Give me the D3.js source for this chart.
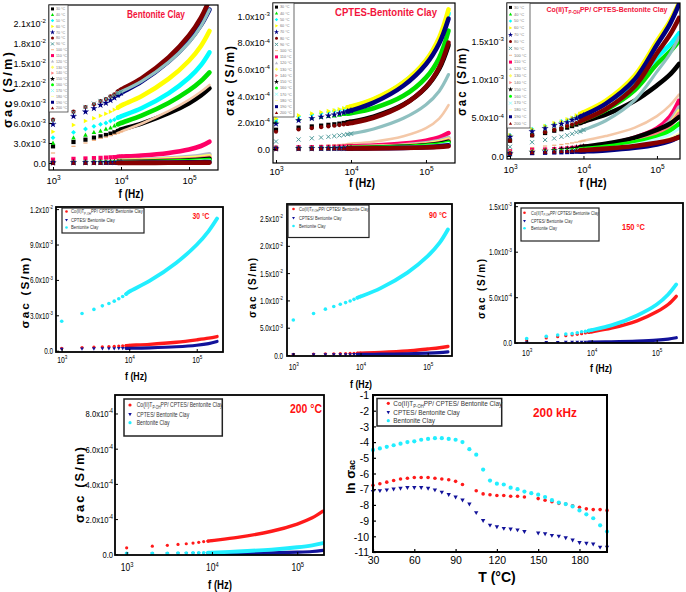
<!DOCTYPE html>
<html><head><meta charset="utf-8">
<script src="https://cdn.jsdelivr.net/npm/d3@7"></script>
<style>body{margin:0;background:#fff}svg{display:block;font-family:"Liberation Sans",Arial,sans-serif}</style>
</head><body><svg id="c" width="686" height="592"></svg>
<script>
// ---------------- DATA ----------------
const freqKHz = [1,2,3,4,5,6,7,8,9,10,20,50,100,150,200];
const temperatures = [30,40,50,60,70,80,90,100,110,120,130,140,150,160,170,180,190,200];
// sigma_ac of Bentonite Clay (x1e-3 S/m), one row per temperature
const bentoniteClay = [
 [2.5,3.15,3.5,3.8,4.0,4.2,4.4,4.6,4.8,5.0,5.91,7.46,8.98,10.14,11.2],
 [3.0,3.8,4.2,4.6,4.8,5.1,5.3,5.6,5.8,6.0,7.11,9.01,10.88,12.3,13.6],
 [3.8,4.6,5.1,5.5,5.8,6.0,6.3,6.5,6.8,7.0,8.21,10.44,12.78,14.68,16.6],
 [4.7,5.7,6.3,6.7,7.1,7.4,7.7,8.0,8.3,8.6,10.01,12.61,15.34,17.56,19.8],
 [5.8,7.0,7.7,8.2,8.7,9.0,9.4,9.8,10.2,10.5,12.2,15.21,18.28,20.69,23.0],
 [6.5,7.7,8.4,8.8,9.3,9.6,10.0,10.3,10.7,11.0,12.7,15.83,19.13,21.8,24.5],
 [6.4,7.6,8.4,8.9,9.3,9.6,9.9,10.2,10.5,10.7,12.25,15.1,18.1,20.54,23.0],
 [1.5,2.5,3.0,3.4,3.7,3.9,4.1,4.3,4.5,4.7,5.89,7.77,9.48,10.68,11.7],
 [0.5,0.62,0.68,0.73,0.77,0.81,0.85,0.88,0.92,0.95,1.12,1.51,2.02,2.55,3.2],
 [0.1,0.17,0.21,0.24,0.26,0.28,0.3,0.32,0.34,0.36,0.46,0.66,0.89,1.09,1.3],
 [0.08,0.14,0.17,0.19,0.21,0.23,0.25,0.27,0.28,0.3,0.38,0.54,0.71,0.85,1.0],
 [0.06,0.1,0.13,0.14,0.16,0.17,0.18,0.2,0.21,0.22,0.28,0.4,0.53,0.65,0.78],
 [0.046,0.07,0.085,0.095,0.1,0.11,0.12,0.125,0.133,0.14,0.19,0.3,0.42,0.53,0.64],
 [0.04,0.063,0.077,0.087,0.095,0.102,0.109,0.117,0.124,0.13,0.16,0.23,0.31,0.38,0.45],
 [0.03,0.048,0.059,0.066,0.073,0.078,0.084,0.09,0.095,0.1,0.13,0.18,0.24,0.29,0.35],
 [0.02,0.033,0.041,0.046,0.05,0.055,0.058,0.062,0.066,0.07,0.088,0.124,0.166,0.2,0.24],
 [0.01,0.018,0.022,0.026,0.028,0.031,0.033,0.036,0.038,0.04,0.051,0.072,0.096,0.117,0.14],
 [0.005,0.006,0.006,0.007,0.007,0.008,0.008,0.009,0.009,0.01,0.016,0.027,0.04,0.051,0.063]
];
// sigma_ac of CPTES-Bentonite Clay (x1e-4 S/m)
const cptesClay = [
 [1.45,1.61,1.7,1.76,1.82,1.86,1.91,1.96,2.01,2.05,2.43,3.34,4.64,6.02,7.8],
 [2.1,2.26,2.35,2.41,2.47,2.51,2.56,2.61,2.66,2.7,3.07,4.0,5.37,6.85,8.9],
 [2.2,2.45,2.59,2.69,2.78,2.86,2.93,3.01,3.08,3.15,3.71,4.98,6.6,8.23,10.2],
 [2.3,2.53,2.67,2.77,2.85,2.92,2.99,3.07,3.14,3.2,3.75,5.01,6.67,8.38,10.5],
 [1.9,2.16,2.31,2.42,2.51,2.59,2.67,2.75,2.83,2.9,3.49,4.76,6.38,7.94,9.8],
 [1.3,1.47,1.57,1.64,1.7,1.75,1.8,1.85,1.9,1.95,2.35,3.31,4.67,6.12,8.0],
 [0.57,0.72,0.81,0.87,0.92,0.97,1.02,1.06,1.11,1.15,1.51,2.31,3.33,4.35,5.6],
 [0.15,0.22,0.25,0.28,0.3,0.32,0.34,0.36,0.38,0.4,0.55,0.96,1.57,2.29,3.3],
 [0.1,0.13,0.14,0.15,0.16,0.17,0.18,0.19,0.19,0.2,0.26,0.41,0.63,0.87,1.2],
 [0.05,0.07,0.08,0.09,0.09,0.1,0.1,0.11,0.12,0.12,0.16,0.27,0.43,0.6,0.83],
 [0.04,0.055,0.065,0.07,0.075,0.08,0.085,0.09,0.095,0.1,0.14,0.23,0.36,0.51,0.71],
 [0.04,0.05,0.06,0.065,0.07,0.075,0.08,0.08,0.085,0.09,0.12,0.2,0.31,0.44,0.61],
 [0.03,0.043,0.05,0.056,0.06,0.065,0.07,0.072,0.076,0.08,0.11,0.18,0.28,0.4,0.55],
 [0.03,0.04,0.046,0.05,0.054,0.058,0.06,0.063,0.067,0.07,0.095,0.16,0.25,0.34,0.48],
 [0.02,0.03,0.036,0.04,0.044,0.048,0.05,0.053,0.057,0.06,0.08,0.13,0.21,0.29,0.41],
 [0.02,0.027,0.032,0.036,0.038,0.04,0.043,0.045,0.048,0.05,0.065,0.1,0.16,0.22,0.3],
 [0.02,0.025,0.028,0.03,0.032,0.034,0.035,0.036,0.038,0.04,0.055,0.09,0.14,0.2,0.275],
 [0.02,0.025,0.028,0.03,0.032,0.034,0.035,0.036,0.038,0.04,0.05,0.08,0.12,0.16,0.22]
];
// sigma_ac of Co(II)TP-OHPP/ CPTES-Bentonite Clay (x1e-3 S/m)
const coClay = [
 [0.2,0.27,0.3,0.33,0.35,0.37,0.39,0.41,0.43,0.45,0.54,0.72,0.92,1.06,1.2],
 [0.22,0.29,0.32,0.35,0.37,0.39,0.41,0.43,0.45,0.47,0.6,0.86,1.2,1.36,1.5],
 [0.27,0.35,0.39,0.42,0.45,0.47,0.49,0.52,0.54,0.56,0.69,0.96,1.29,1.45,1.6],
 [0.27,0.35,0.39,0.43,0.45,0.48,0.5,0.53,0.55,0.57,0.72,1.05,1.5,1.76,2.0],
 [0.25,0.32,0.36,0.4,0.42,0.44,0.47,0.49,0.51,0.53,0.68,1.0,1.45,1.72,1.98],
 [0.2,0.27,0.31,0.34,0.36,0.39,0.41,0.43,0.45,0.47,0.61,0.91,1.34,1.58,1.8],
 [0.12,0.18,0.21,0.23,0.25,0.27,0.29,0.31,0.32,0.34,0.46,0.73,1.1,1.33,1.55],
 [0.08,0.11,0.13,0.14,0.15,0.16,0.17,0.18,0.19,0.2,0.26,0.37,0.52,0.66,0.8],
 [0.06,0.08,0.085,0.09,0.095,0.1,0.105,0.11,0.115,0.12,0.15,0.24,0.36,0.51,0.72],
 [0.05,0.066,0.075,0.081,0.087,0.091,0.096,0.101,0.106,0.11,0.14,0.21,0.32,0.45,0.63],
 [0.05,0.063,0.07,0.076,0.08,0.085,0.089,0.093,0.097,0.1,0.13,0.19,0.29,0.41,0.58],
 [0.04,0.056,0.065,0.071,0.077,0.081,0.086,0.091,0.096,0.1,0.13,0.19,0.29,0.4,0.55],
 [0.03,0.053,0.067,0.077,0.085,0.092,0.099,0.107,0.114,0.12,0.16,0.24,0.34,0.42,0.51],
 [0.03,0.046,0.055,0.061,0.067,0.071,0.076,0.081,0.086,0.09,0.12,0.18,0.25,0.33,0.42],
 [0.03,0.043,0.051,0.056,0.061,0.065,0.069,0.073,0.077,0.08,0.1,0.15,0.22,0.28,0.36],
 [0.03,0.04,0.046,0.051,0.054,0.058,0.061,0.064,0.067,0.07,0.088,0.127,0.178,0.228,0.29],
 [0.03,0.038,0.042,0.046,0.048,0.051,0.053,0.056,0.058,0.06,0.074,0.107,0.15,0.195,0.25],
 [0.037,0.046,0.051,0.056,0.06,0.064,0.068,0.072,0.075,0.078,0.096,0.131,0.172,0.207,0.245]
];
// ln(sigma_ac) at 200 kHz vs temperature
const tempC = [30,35,40,45,50,55,60,65,70,75,80,85,90,95,100,105,110,115,120,125,130,135,140,145,150,155,160,165,170,175,180,185,190,195,200];
const lnCo = [-6.75,-6.65,-6.55,-6.45,-6.35,-6.3,-6.25,-6.25,-6.25,-6.3,-6.35,-6.4,-6.5,-6.7,null,-7.1,-7.3,-7.35,-7.4,-7.4,-7.45,-7.45,-7.5,null,-7.6,-7.7,-7.8,-7.9,-7.95,-8.05,-8.15,-8.25,-8.3,-8.3,-8.35];
const lnCptes = [-7.15,-7.1,-7.05,-7.0,-6.95,-6.9,-6.9,-6.9,-6.95,-7.05,-7.2,-7.35,-7.5,-7.7,-7.95,-8.5,-9.0,-9.3,-9.4,-9.5,-9.55,-9.6,-9.7,null,-9.8,-9.85,-9.95,-10.0,-10.1,-10.25,-10.4,-10.45,-10.5,-10.7,-10.7];
const lnBent = [-4.5,-4.4,-4.3,-4.2,-4.1,-4.0,-3.95,-3.85,-3.8,-3.75,-3.75,-3.8,-3.85,-4.0,-4.45,-4.8,-5.75,-6.45,-6.65,-6.7,-6.9,-7.0,-7.15,-7.25,-7.35,-7.5,-7.7,-7.85,-7.95,-8.1,-8.35,-8.6,-8.85,-9.3,-9.7];
// tick labels
const freqTicks = [1e3,1e4,1e5];
const freqTickLabels = ["10^3","10^4","10^5"];
const yTicksP1 = [0,3e-3,6e-3,9e-3,1.2e-2,1.5e-2,1.8e-2,2.1e-2];
const yLabelsP1 = ["0.0","3.0x10^-3","6.0x10^-3","9.0x10^-3","1.2x10^-2","1.5x10^-2","1.8x10^-2","2.1x10^-2"];
const yTicksP2 = [0,2e-4,4e-4,6e-4,8e-4,1e-3];
const yLabelsP2 = ["0.0","2.0x10^-4","4.0x10^-4","6.0x10^-4","8.0x10^-4","1.0x10^-3"];
const yTicksP3 = [0,5e-4,1e-3,1.5e-3];
const yLabelsP3 = ["0.0","5.0x10^-4","1.0x10^-3","1.5x10^-3"];
const yTicksP4 = [0,3e-3,6e-3,9e-3,1.2e-2];
const yLabelsP4 = ["0.0","3.0x10^-3","6.0x10^-3","9.0x10^-3","1.2x10^-2"];
const yTicksP5 = [0,5e-3,1e-2,1.5e-2,2e-2,2.5e-2];
const yLabelsP5 = ["0.0","5.0x10^-3","1.0x10^-2","1.5x10^-2","2.0x10^-2","2.5x10^-2"];
const yTicksP6 = [0,5e-4,1e-3,1.5e-3];
const yLabelsP6 = ["0.0","5.0x10^-4","1.0x10^-3","1.5x10^-3"];
const yTicksP7 = [0,2e-4,4e-4,6e-4,8e-4];
const yLabelsP7 = ["0.0","2.0x10^-4","4.0x10^-4","6.0x10^-4","8.0x10^-4"];
const tTicks = [30,60,90,120,150,180];
const lnTicks = [-1,-2,-3,-4,-5,-6,-7,-8,-9,-10,-11];
const compLabels = ["Co(II)T_P-OH_PP/ CPTES/ Bentonite Clay","CPTES/ Bentonite Clay","Bentonite Clay"];

// ---------------- STYLES ----------------
const tempStyles = [
 {c:"#000000",s:"square"},{c:"#00e000",s:"triUp"},{c:"#00ffff",s:"diamond"},{c:"#ffff00",s:"triRight"},
 {c:"#000080",s:"star"},{c:"#800000",s:"circle"},{c:"#4f9a9a",s:"x",band:"#8fc0c0",bw:3.2},{c:"#f0b080",s:"dash",band:"#f4c8a8",bw:2.6},
 {c:"#ff0066",s:"square"},{c:"#b8b8c8",s:"triUp"},{c:"#ffff66",s:"diamond"},{c:"#ff7f7f",s:"triRight"},
 {c:"#000000",s:"star"},{c:"#00ff00",s:"circle"},{c:"#99ffff",s:"x",band:"#bfffff",bw:3},{c:"#ffffa8",s:"dash",bw:2.6},
 {c:"#000080",s:"square"},{c:"#880000",s:"triUp"}
];
const RED="#ff1a1a", BLUE="#12129a", CYAN="#22eeff", TITLE="#f2143c";

const svg = d3.select("#c");
let clipN = 0;

function sciText(sel, str, fs){
  if (str.indexOf("_")>=0){
    const p = str.split("_");
    sel.append("tspan").text(p[0]);
    sel.append("tspan").attr("font-size",(fs*0.65).toFixed(1)).attr("dy",(fs*0.25).toFixed(1)).text(p[1]);
    sel.append("tspan").attr("dy",(-fs*0.25).toFixed(1)).text(p[2]);
    return;
  }
  const p = str.split("^");
  sel.append("tspan").text(p[0]);
  if (p.length>1) sel.append("tspan").attr("font-size",(fs*0.68).toFixed(1)).attr("dy",(-fs*0.42).toFixed(1)).text(p[1]);
}
function place(g,x,y,o){
  const t = g.append("text").attr("transform",`translate(${x},${y})`+(o.rot?` rotate(${o.rot})`:""))
    .attr("font-size",o.size).attr("font-weight",o.weight||"normal").attr("fill",o.fill||"#000")
    .attr("text-anchor",o.anchor||"start");
  if (o.ls) t.attr("letter-spacing",o.ls);
  return t;
}
function fit(t,w){
  const len = t.node().getComputedTextLength();
  if (len>0) t.attr("transform", t.attr("transform")+` scale(${(w/len).toFixed(3)},1)`);
  return len>0 ? w/len : 1;
}
function drawSym(g,cx,cy,type,d,color){
  const r=d/2;
  const tr=`translate(${cx.toFixed(1)},${cy.toFixed(1)})`;
  if (type==="circle") return g.append("circle").attr("cx",cx).attr("cy",cy).attr("r",r).attr("fill",color);
  if (type==="square") return g.append("rect").attr("x",cx-r).attr("y",cy-r).attr("width",d).attr("height",d).attr("fill",color);
  if (type==="dash") return g.append("rect").attr("x",cx-r).attr("y",cy-d*0.15).attr("width",d).attr("height",d*0.3).attr("fill",color);
  if (type==="x") return g.append("path").attr("transform",tr).attr("d",`M${-r},${-r}L${r},${r}M${-r},${r}L${r},${-r}`).attr("stroke",color).attr("stroke-width",1).attr("fill","none");
  if (type==="star") return g.append("path").attr("transform",tr).attr("d",d3.symbol(d3.symbolStar, d*d*0.9)()).attr("fill",color);
  const R=r*1.15;
  let p;
  if (type==="diamond") p=`M0,${-R}L${R},0L0,${R}L${-R},0Z`;
  else p=`M0,${-R}L${R*0.95},${R*0.7}L${-R*0.95},${R*0.7}Z`;
  const rot = type==="triRight"?90:(type==="triDown"?180:0);
  return g.append("path").attr("transform",tr+(rot?` rotate(${rot})`:"")).attr("d",p).attr("fill",color);
}

function axes(g,x,y,c){
  const ax = g.append("g").attr("transform",`translate(0,${c.B})`)
    .call(d3.axisBottom(x).tickValues(c.xTicks).tickSize(-c.tk).tickFormat(""));
  ax.attr("font-family",null).attr("font-size",null);
  ax.select(".domain").remove();
  ax.selectAll(".tick text").remove();
  ax.selectAll(".tick line").attr("stroke","#000").attr("stroke-width",c.tw||1);
  ax.selectAll(".tick").each(function(d,i){
    const t = d3.select(this).append("text").attr("y",c.xDy).attr("text-anchor","middle")
      .attr("font-size",c.xfs).attr("fill","#000");
    sciText(t,c.xLabels[i],c.xfs);
    if (c.xsx) t.attr("transform",`scale(${c.xsx},1)`);
  });
  const ay = g.append("g").attr("transform",`translate(${c.L},0)`)
    .call(d3.axisLeft(y).tickValues(c.yTicks).tickSize(-c.tk).tickFormat(""));
  ay.attr("font-family",null).attr("font-size",null);
  ay.select(".domain").remove();
  ay.selectAll(".tick text").remove();
  ay.selectAll(".tick line").attr("stroke","#000").attr("stroke-width",c.tw||1);
  ay.selectAll(".tick").each(function(d,i){
    const t = d3.select(this).append("text").attr("text-anchor","end").attr("dy","0.36em")
      .attr("font-size",c.yfs).attr("fill","#000");
    sciText(t,c.yLabels[i],c.yfs);
    t.attr("transform",`translate(${c.yDx},0) scale(${c.ysx||1},1)`);
  });
  g.append("rect").attr("x",c.L).attr("y",c.T).attr("width",c.R-c.L).attr("height",c.B-c.T)
    .attr("fill","none").attr("stroke","#000").attr("stroke-width",c.fw);
}

function freqPanel(c){
  const g = svg.append("g");
  const x = d3.scaleLog().domain(c.xd).range([c.L,c.R]);
  const y = d3.scaleLinear().domain(c.yd).range([c.B,c.T]);
  const id = "clip"+(clipN++);
  svg.append("clipPath").attr("id",id).append("rect").attr("x",c.L).attr("y",c.T).attr("width",c.R-c.L).attr("height",c.B-c.T);
  const pg = g.append("g").attr("clip-path",`url(#${id})`);
  const line = d3.line().x(p=>x(p.f)).y(p=>y(p.v)).curve(d3.curveCatmullRom.alpha(0.5));
  c.series.forEach(s=>{
    const pts = freqKHz.map((f,i)=>({f:f*1000, v:s.vals[i]*s.unit}));
    pg.append("path").attr("d",line(pts.filter(p=>p.f>=9000))).attr("fill","none")
      .attr("stroke",s.band||s.color).attr("stroke-width",s.lw).attr("stroke-linecap","round");
    pts.filter(p=>p.f<=10000).forEach(p=>drawSym(pg,x(p.f),y(p.v),s.sym,s.size,s.color));
  });
  axes(g,x,y,c);
  return g;
}

function tempLegend(g,x0,y0,w,h,fs){
  g.append("rect").attr("x",x0).attr("y",y0).attr("width",w).attr("height",h).attr("fill","#fff").attr("stroke","#444").attr("stroke-width",0.8);
  const rh = (h-2)/temperatures.length;
  temperatures.forEach((t,i)=>{
    const cy = y0+1+rh*(i+0.5);
    drawSym(g,x0+3.5,cy,tempStyles[i].s,3,tempStyles[i].c);
    g.append("text").attr("x",x0+7).attr("y",cy+fs*0.35).attr("font-size",fs).attr("fill","#777").text(`${t} °C`);
  });
}
function compLegend(g,box,rows,mx,tx,fs,w0,big){
  g.append("rect").attr("x",box[0]).attr("y",box[1]).attr("width",box[2]-box[0]).attr("height",box[3]-box[1])
    .attr("fill","#fff").attr("stroke","#222").attr("stroke-width",big?1.5:1.2);
  const st=[{c:RED,s:"circle"},{c:BLUE,s:"triDown"},{c:CYAN,s:"circle"}];
  let sx=1;
  compLabels.forEach((lab,i)=>{
    drawSym(g,mx,rows[i],st[i].s,big?3.2:2.6,st[i].c);
    const t = place(g,tx,rows[i]+fs*0.35,{size:fs,fill:"#333"});
    sciText(t,lab,fs);
    if (i===0) sx = fit(t,w0); else t.attr("transform",t.attr("transform")+` scale(${sx},1)`);
  });
}
function topSeries(arr,unit,lw){
  return arr.map((vals,i)=>({vals,unit,color:tempStyles[i].c,band:tempStyles[i].band,sym:tempStyles[i].s,size:4.2,lw:tempStyles[i].bw||lw}));
}
function compSeries(ti){
  return [
    {vals:coClay[ti],unit:1e-3,color:RED,sym:"circle",size:3.2,lw:3.4},
    {vals:cptesClay[ti],unit:1e-4,color:BLUE,sym:"triDown",size:3.4,lw:3.2},
    {vals:bentoniteClay[ti],unit:1e-3,color:CYAN,sym:"circle",size:3.6,lw:3.8}
  ];
}
function sigmaLabel(g,x,y,fs,w){
  const t = place(g,x,y,{size:fs,weight:"bold",anchor:"middle",rot:-90,ls:2});
  t.text("σac (S/m)");
  fit(t,w);
}

// ---------- Top row ----------
const p1 = freqPanel({L:49,T:5,R:218,B:170,xd:[873,2.67e5],yd:[-1.05e-3,2.37e-2],
  xTicks:freqTicks,xLabels:freqTickLabels,yTicks:yTicksP1,yLabels:yLabelsP1,
  tk:3,fw:1.2,xDy:14,xfs:9.5,yfs:9,yDx:-3,series:topSeries(bentoniteClay,1e-3,4.6)});
tempLegend(p1,49,5,19,107,3.6);
fit(place(p1,156,18,{size:10.5,weight:"bold",fill:TITLE,anchor:"middle"}).text("Bentonite Clay"),58);
sigmaLabel(p1,12,89,12,78);
fit(place(p1,131,198,{size:12,weight:"bold",anchor:"middle"}).text("f (Hz)"),25);

const p2 = freqPanel({L:273,T:3,R:455,B:163,xd:[912,2.44e5],yd:[-1.05e-4,1.098e-3],
  xTicks:freqTicks,xLabels:freqTickLabels,yTicks:yTicksP2,yLabels:yLabelsP2,
  tk:3,fw:1.2,xDy:12,xfs:9.5,yfs:9,yDx:-3,series:topSeries(cptesClay,1e-4,4.6)});
tempLegend(p2,273,3,21,114,3.8);
fit(place(p2,386,16,{size:11,weight:"bold",fill:TITLE,anchor:"middle"}).text("CPTES-Bentonite Clay"),102);
sigmaLabel(p2,234,80,12,72);
fit(place(p2,362,187,{size:12,weight:"bold",anchor:"middle"}).text("f (Hz)"),26);

const p3 = freqPanel({L:507,T:3,R:680,B:159,xd:[910,2.06e5],yd:[-3.9e-5,1.995e-3],
  xTicks:freqTicks,xLabels:freqTickLabels,yTicks:yTicksP3,yLabels:yLabelsP3,
  tk:3,fw:1.2,xDy:14,xfs:9.5,yfs:9,yDx:-3,series:topSeries(coClay,1e-3,4.6)});
tempLegend(p3,507,3,23,125,4);
{ const t = place(p3,607,12,{size:8,weight:"bold",fill:TITLE,anchor:"middle"});
  sciText(t,"Co(II)T_P-OH_PP/ CPTES-Bentonite Clay",8); fit(t,121); }
sigmaLabel(p3,466,81,12,70);
fit(place(p3,593,187,{size:12,weight:"bold",anchor:"middle"}).text("f (Hz)"),27);

// ---------- Middle row ----------
function compPanel(c, ti, lab){
  const g = freqPanel(Object.assign({xTicks:freqTicks,xLabels:freqTickLabels,tk:3,fw:1.8,tw:1,series:compSeries(ti)},c));
  compLegend(g,c.box,c.rows,c.mx,c.tx,c.lfs,c.lw0,c.big);
  fit(place(g,lab.x,lab.y,{size:lab.fs,weight:"bold",fill:"#ff1010",anchor:"middle"}).text(`${temperatures[ti]} °C`),lab.w);
  sigmaLabel(g,c.sx,c.sy,c.sfs,c.sw);
  fit(place(g,c.fx,c.fy,{size:c.ffs,weight:"bold",anchor:"middle"}).text("f (Hz)"),c.fw2);
  return g;
}
compPanel({L:56,T:207,R:223,B:352,xd:[823,2.45e5],yd:[-1.1e-4,1.218e-2],yTicks:yTicksP4,yLabels:yLabelsP4,
  xDy:11,xfs:8.5,xsx:0.8,yfs:8.5,ysx:0.75,yDx:-3,
  box:[62,208,144,233],rows:[211.5,220,227.5],mx:66.5,tx:71,lfs:5.5,lw0:72,
  sx:29,sy:292,sfs:11,sw:73,fx:136,fy:380,ffs:11,fw2:22}, 0, {x:201,y:218.5,fs:9.5,w:17});
compPanel({L:287,T:204,R:452,B:356,xd:[805,2.30e5],yd:[-1.8e-4,2.766e-2],yTicks:yTicksP5,yLabels:yLabelsP5,
  xDy:14,xfs:8.5,xsx:0.8,yfs:8.5,ysx:0.75,yDx:-4,
  box:[288,205,369,237.5],rows:[209,218,226],mx:293.5,tx:299,lfs:5.5,lw0:70,
  sx:256,sy:287,sfs:11,sw:62,fx:361,fy:388,ffs:11,fw2:22}, 6, {x:438,y:218,fs:9.5,w:18});
compPanel({L:515,T:203,R:683,B:343,xd:[661,2.54e5],yd:[-3e-6,1.535e-3],yTicks:yTicksP6,yLabels:yLabelsP6,
  xDy:13,xfs:8.5,xsx:0.8,yfs:8.5,ysx:0.75,yDx:-3,
  box:[521,208,599,241],rows:[212.7,221,228.3],mx:524.5,tx:531,lfs:5.5,lw0:68,
  sx:485,sy:288,sfs:11,sw:62,fx:601,fy:372,ffs:11,fw2:22}, 12, {x:633.5,y:229.5,fs:9.5,w:23});

// ---------- Bottom row ----------
compPanel({L:115,T:395,R:324,B:555,xd:[730,2.06e5],yd:[-4e-6,9.05e-4],yTicks:yTicksP7,yLabels:yLabelsP7,
  xDy:16,xfs:10,xsx:0.85,yfs:9.5,ysx:0.8,yDx:-2,
  box:[124,399,222.3,436],rows:[405,414.3,422.7],mx:130,tx:136.7,lfs:7,lw0:86,big:true,
  sx:84,sy:484,sfs:12,sw:78,fx:220,fy:589,ffs:12,fw2:24}, 17, {x:306,y:413,fs:13,w:32});

// Panel 8: ln sigma vs T at 200 kHz
{
  const c = {L:373,T:395,R:607,B:552};
  const g = svg.append("g");
  const x = d3.scaleLinear().domain([30,200]).range([c.L,c.R]);
  const y = d3.scaleLinear().domain([-11,-1]).range([c.B,c.T]);
  const sets = [
    {vals:lnCo,color:RED,sym:"circle",size:3.6},
    {vals:lnCptes,color:BLUE,sym:"triDown",size:4},
    {vals:lnBent,color:CYAN,sym:"circle",size:4.2}
  ];
  sets.forEach(s=>{
    tempC.forEach((t,i)=>{ if (s.vals[i]!==null) drawSym(g,x(t),y(s.vals[i]),s.sym,s.size,s.color); });
  });
  g.append("line").attr("x1",c.L).attr("x2",c.R).attr("y1",y(-10.97)).attr("y2",y(-10.97)).attr("stroke","#3050c0").attr("stroke-width",1);
  axes(g,x,y,Object.assign({xTicks:tTicks,xLabels:tTicks.map(String),yTicks:lnTicks,yLabels:lnTicks.map(String),
    tk:3,fw:2,tw:1.2,xDy:12,xfs:10.5,yfs:10.5,yDx:-4},c));
  compLegend(g,[377,398.5,501.7,426],[403.3,412.3,420.7],388.3,393.3,7.5,109,true);
  fit(place(g,555,417,{size:13,weight:"bold",fill:"#ff1010",anchor:"middle"}).text("200 kHz"),44);
  { const t = place(g,355,477,{size:13,weight:"bold",anchor:"middle",rot:-90});
    t.append("tspan").text("ln σ"); t.append("tspan").attr("font-size",9).text("ac"); }
  place(g,497,582,{size:14,weight:"bold",anchor:"middle"}).text("T (°C)");
}
</script></body></html>
